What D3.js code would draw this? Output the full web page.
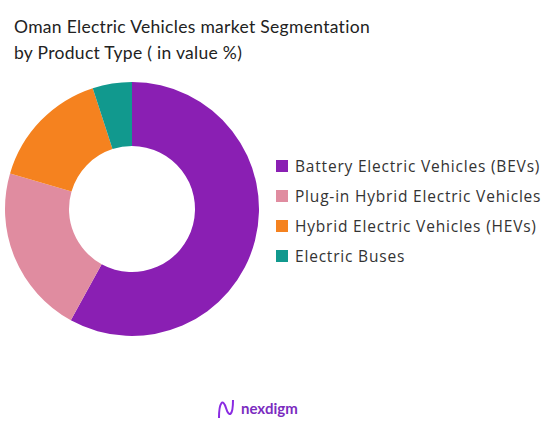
<!DOCTYPE html>
<html><head><meta charset="utf-8">
<script src="https://cdn.jsdelivr.net/npm/d3@7"></script>
<style>body{margin:0;background:#fff;font-family:Lato,"Open Sans",sans-serif}</style>
</head><body>
<svg id="chart" width="556" height="423"></svg>
<script>
var categories = ["Battery Electric Vehicles (BEVs)", "Plug-in Hybrid Electric Vehicles", "Hybrid Electric Vehicles (HEVs)", "Electric Buses"];
var values = [58, 21.5, 15.5, 5];
var colors = ["#8a1fb3", "#e08ca0", "#f5821f", "#11998e"];
var titleLines = ["Oman Electric Vehicles market Segmentation", "by Product Type ( in value %)"];

var svg = d3.select("#chart");

svg.selectAll(".title").data(titleLines).enter().append("text")
  .attr("x", 14).attr("y", function(d, i) { return 33 + i * 26; })
  .attr("font-size", 17.5).attr("fill", "#222").attr("letter-spacing", 0.3)
  .text(function(d) { return d; });

var g = svg.append("g").attr("transform", "translate(132,209)");
var pie = d3.pie().sort(null)(values);
var arc = d3.arc().innerRadius(63).outerRadius(127);
g.selectAll("path").data(pie).enter().append("path")
  .attr("d", arc).attr("fill", function(d, i) { return colors[i]; });

var y = d3.scaleBand().domain(categories).range([160, 280]);
var leg = svg.selectAll(".leg").data(categories).enter().append("g")
  .attr("transform", function(d) { return "translate(276," + y(d) + ")"; });
leg.append("rect").attr("width", 12).attr("height", 12)
  .attr("fill", function(d, i) { return colors[i]; });
leg.append("text").attr("x", 19).attr("y", 12).attr("font-size", 15.5)
  .attr("font-family", "'Open Sans', sans-serif").attr("letter-spacing", 0.8)
  .attr("fill", "#333").text(function(d) { return d; });

var logo = svg.append("g").attr("transform", "translate(217,398)");
logo.append("path").attr("d", "M2,20 C2,4 6,0 9,10 C12,20 16,18 16,2")
  .attr("fill", "none").attr("stroke", "#8a2be2").attr("stroke-width", 2);
logo.append("text").attr("x", 24).attr("y", 16).attr("font-size", 15)
  .attr("font-weight", "bold").attr("fill", "#7b2cbf").text("nexdigm");
</script>
</body></html>
